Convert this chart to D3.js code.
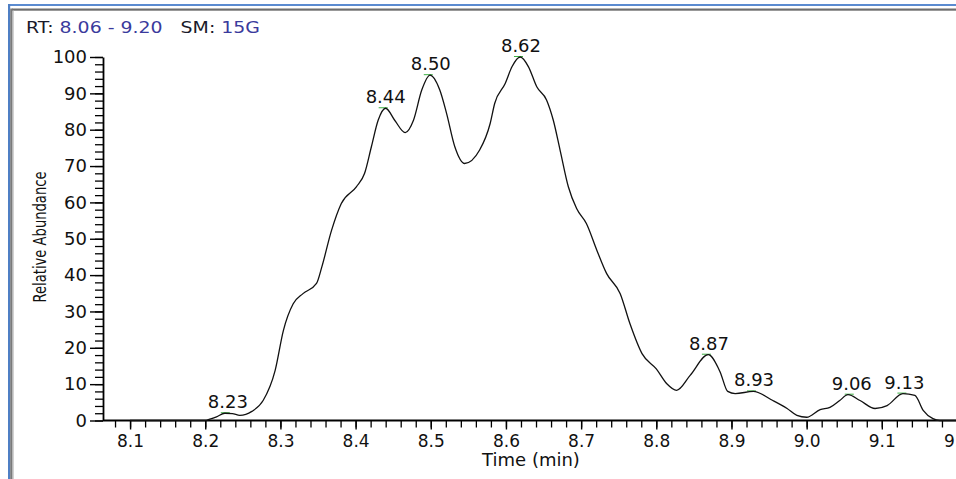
<!DOCTYPE html>
<html>
<head>
<meta charset="utf-8">
<script src="https://cdn.jsdelivr.net/npm/d3@7/dist/d3.min.js"></script>
<style>
  html, body { margin: 0; padding: 0; background: #fff; }
  svg { display: block; }
  text { font-family: "DejaVu Sans", Verdana, sans-serif; fill: #111; }
</style>
</head>
<body>
<svg id="chart" width="956" height="479"></svg>
<script>
// ---------- data ----------
const retentionTime = [
  8.10, 8.15, 8.20, 8.205, 8.215, 8.226, 8.236, 8.246, 8.262, 8.277,
  8.293, 8.304, 8.317, 8.330, 8.348, 8.355, 8.368, 8.381, 8.401, 8.412,
  8.421, 8.430, 8.440, 8.452, 8.466, 8.477, 8.488, 8.499, 8.512, 8.521,
  8.532, 8.545, 8.565, 8.579, 8.585, 8.599, 8.608, 8.619, 8.630, 8.641,
  8.654, 8.663, 8.672, 8.683, 8.694, 8.707, 8.721, 8.734, 8.752, 8.765,
  8.781, 8.800, 8.814, 8.827, 8.845, 8.869, 8.885, 8.895, 8.905, 8.929,
  8.955, 8.974, 8.987, 9.000, 9.018, 9.031, 9.044, 9.055, 9.071, 9.091,
  9.107, 9.128, 9.144, 9.155, 9.168, 9.177, 9.20
];
const relativeAbundance = [
  0, 0, 0, 0.3, 1.0, 2.0, 1.9, 1.4, 2.5, 5.5,
  13.8, 24.8, 32.1, 34.9, 37.7, 42.2, 52.3, 59.7, 64.3, 68.0,
  75.3, 82.6, 85.9, 82.6, 79.2, 82.6, 90.9, 95.0, 90.9, 84.5,
  75.3, 70.7, 74.4, 81.7, 87.2, 92.7, 97.3, 100, 97.3, 91.8,
  88.2, 82.6, 74.4, 64.3, 58.3, 54.2, 46.8, 40.4, 34.9, 26.6,
  18.4, 14.2, 10.1, 8.3, 12.4, 18.1, 13.3, 8.0, 7.4, 8.0,
  5.5, 3.3, 1.4, 0.9, 3.0, 3.6, 5.5, 7.1, 5.5, 3.3,
  4.1, 7.4, 6.9, 2.8, 0.5, 0, 0
];
const peakRT = [8.23, 8.44, 8.50, 8.62, 8.87, 8.93, 9.06, 9.13];
const peakAbundance = [2.0, 85.9, 95.0, 100, 18.1, 8.0, 7.1, 7.4];
const peakLabels = ["8.23", "8.44", "8.50", "8.62", "8.87", "8.93", "9.06", "9.13"];
const xMajorTicks = [8.1, 8.2, 8.3, 8.4, 8.5, 8.6, 8.7, 8.8, 8.9, 9.0, 9.1, 9.2];
const yMajorTicks = [0, 10, 20, 30, 40, 50, 60, 70, 80, 90, 100];
const rtRange = ["8.06 - 9.20"];
const smoothing = ["15G"];

// ---------- layout ----------
const W = 956, H = 479;
const svg = d3.select("#chart");
const yAxisX = 103;

const x = d3.scaleLinear().domain([8.06, 9.20]).range([100, 957]);
const y = d3.scaleLinear().domain([0, 100]).range([420.5, 57]);

// frame
svg.append("rect").attr("x", 8).attr("y", 4).attr("width", W).attr("height", 2).attr("fill", "#5b8bd0");
svg.append("rect").attr("x", 12).attr("y", 8.5).attr("width", W).attr("height", 2.2).attr("fill", "#6e6e6e");
svg.append("rect").attr("x", 8).attr("y", 4).attr("width", 2.2).attr("height", H).attr("fill", "#4f7fc4");
svg.append("rect").attr("x", 10.2).attr("y", 8.5).attr("width", 2.4).attr("height", H).attr("fill", "#7a7a7a");
svg.append("rect").attr("x", 12.6).attr("y", 10.7).attr("width", 1.2).attr("height", H).attr("fill", "#c8c8c8");

// title
const title = svg.append("text").attr("x", 26).attr("y", 33).style("font-size", "15.5px");
title.append("tspan").text("RT: ").style("fill", "#1a1a2a");
title.append("tspan").text(rtRange[0]).style("fill", "#3a3a9c");
title.append("tspan").text("   SM: ").style("fill", "#1a1a2a").attr("xml:space", "preserve");
title.append("tspan").text(smoothing[0]).style("fill", "#3a3a9c");
title.attr("textLength", 234).attr("lengthAdjust", "spacingAndGlyphs");

// y axis minor
const yMinor = d3.range(0, 101, 2);
svg.append("g").attr("transform", `translate(${yAxisX},0)`)
  .call(d3.axisLeft(y).tickValues(yMinor).tickSize(8).tickFormat("").tickSizeOuter(0))
  .call(g => g.select(".domain").remove())
  .call(g => g.selectAll("line").attr("stroke", "#000").attr("stroke-width", 1.3));
// y axis major
const gy = svg.append("g").attr("transform", `translate(${yAxisX},0)`)
  .call(d3.axisLeft(y).tickValues(yMajorTicks).tickSize(13).tickPadding(3).tickSizeOuter(0));
gy.select(".domain").attr("stroke", "#000").attr("stroke-width", 1.8);
gy.selectAll("line").attr("stroke", "#000").attr("stroke-width", 1.4);
gy.selectAll("text").style("font-size", "18px").style("font-family", "DejaVu Sans, Verdana, sans-serif").attr("fill", "#111");

// x axis minor
const xMinor = d3.range(8.08, 9.2001, 0.02);
svg.append("g").attr("transform", `translate(0,${y(0)})`)
  .call(d3.axisBottom(x).tickValues(xMinor).tickSize(7).tickFormat("").tickSizeOuter(0))
  .call(g => g.select(".domain").remove())
  .call(g => g.selectAll("line").attr("stroke", "#000").attr("stroke-width", 1.3));
// x axis major
const gx = svg.append("g").attr("transform", `translate(0,${y(0)})`)
  .call(d3.axisBottom(x).tickValues(xMajorTicks).tickSize(9).tickPadding(5).tickSizeOuter(0)
    .tickFormat(d3.format(".1f")));
gx.select(".domain").remove();
gx.selectAll("line").attr("stroke", "#000").attr("stroke-width", 1.4);
gx.selectAll("text").style("font-size", "17px").style("font-family", "DejaVu Sans, Verdana, sans-serif").attr("fill", "#111");
svg.append("line").attr("x1", yAxisX).attr("x2", W).attr("y1", y(0)).attr("y2", y(0))
  .attr("stroke", "#000").attr("stroke-width", 1.8);

// axis titles
svg.append("text").attr("x", 531).attr("y", 466).attr("text-anchor", "middle")
  .style("font-size", "18px").text("Time (min)");
svg.append("text").attr("transform", "translate(46,237) rotate(-90)").attr("text-anchor", "middle")
  .style("font-size", "17px").attr("textLength", 131).attr("lengthAdjust", "spacingAndGlyphs")
  .text("Relative Abundance");

// peak markers (under the trace)
svg.append("g").selectAll("line").data(peakRT).join("line")
  .attr("x1", (d) => x(d) - 7).attr("x2", (d) => x(d) + 2)
  .attr("y1", (d, i) => y(peakAbundance[i]) - 0.5).attr("y2", (d, i) => y(peakAbundance[i]) - 0.5)
  .attr("stroke", "#3cb043").attr("stroke-width", 1);

// trace
const pts = retentionTime.map((t, i) => [t, relativeAbundance[i]]);
svg.append("path").datum(pts)
  .attr("fill", "none").attr("stroke", "#111").attr("stroke-width", 1.3)
  .attr("d", d3.line().x(d => x(d[0])).y(d => y(d[1])).curve(d3.curveMonotoneX));

// peak labels
svg.append("g").selectAll("text").data(peakRT).join("text")
  .attr("x", d => x(d)).attr("y", (d, i) => y(peakAbundance[i]) - 5)
  .attr("text-anchor", "middle").style("font-size", "18px").attr("fill", "#222")
  .text((d, i) => peakLabels[i]);
</script>
</body>
</html>
